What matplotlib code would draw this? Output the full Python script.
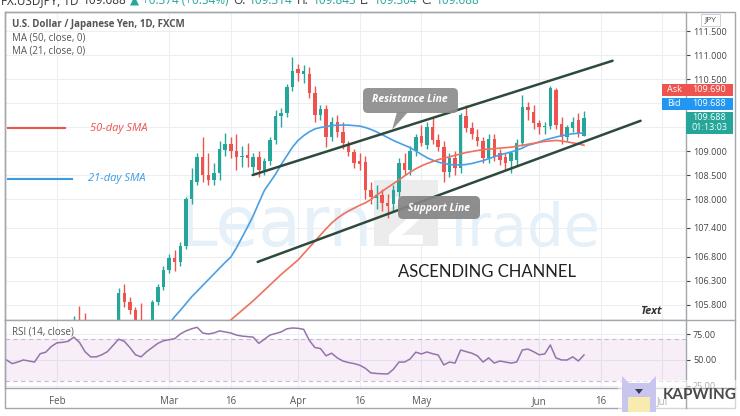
import numpy as np
import pandas as pd
import matplotlib
matplotlib.use("Agg")
import matplotlib.pyplot as plt
from matplotlib.patches import Rectangle, FancyBboxPatch, Polygon
from matplotlib.transforms import Affine2D

plt.rcParams['font.family'] = ['Open Sans', 'DejaVu Sans']

# --- USD/JPY daily candles (FXCM), bar index into `dates` ---
dates = pd.bdate_range("2021-01-18", periods=125)
first_bar = 12

opens = [104.95, 105.03, 105.45, 105.38, 105.22, 104.57, 104.58, 104.75, 104.95, 105.40,
         106.04, 105.86, 105.69, 105.45, 105.07, 105.27, 105.86, 106.17, 106.52, 106.77,
         106.69, 107.02, 108.00, 108.36, 108.88, 108.50, 108.40, 108.55, 109.02, 109.15,
         109.00, 108.87, 108.92, 108.66, 108.87, 108.60, 108.79, 109.23, 109.73, 109.80,
         110.33, 110.70, 110.60, 110.60, 110.21, 109.75, 109.87, 109.29, 109.60, 109.40,
         109.13, 108.98, 108.80, 108.77, 108.19, 108.03, 108.08, 107.92, 107.90, 108.15,
         108.75, 108.60, 109.00, 109.31, 109.12, 109.50, 109.23, 109.08, 108.56, 108.85,
         108.65, 109.72, 109.48, 109.30, 109.20, 108.85, 109.25, 108.95, 108.88, 108.80,
         108.82, 109.17, 109.92, 109.82, 109.58, 109.50, 109.53, 110.27, 109.56, 109.29,
         109.48, 109.65, 109.314]
highs = [105.12, 105.56, 105.77, 105.63, 105.30, 104.80, 104.90, 105.10, 105.45, 106.15,
         106.23, 105.95, 105.75, 105.83, 105.35, 105.90, 106.22, 106.60, 106.85, 106.94,
         107.10, 108.05, 108.65, 108.96, 109.29, 108.96, 108.75, 109.20, 109.37, 109.30,
         109.35, 109.10, 109.17, 108.95, 109.00, 108.85, 109.30, 109.85, 109.90, 110.40,
         110.96, 110.81, 110.80, 110.75, 110.35, 109.95, 109.96, 109.70, 109.75, 109.60,
         109.20, 109.05, 108.95, 108.90, 108.35, 108.30, 108.20, 108.10, 108.30, 108.85,
         108.95, 109.10, 109.35, 109.55, 109.60, 109.70, 109.35, 109.20, 108.95, 109.00,
         109.80, 109.95, 109.60, 109.45, 109.30, 109.35, 109.35, 109.05, 108.95, 109.00,
         109.25, 110.17, 110.02, 109.95, 109.65, 109.60, 110.35, 110.32, 109.70, 109.55,
         109.70, 109.80, 109.843]
lows = [104.80, 104.95, 105.20, 105.15, 104.50, 104.40, 104.50, 104.60, 104.90, 105.30,
        105.75, 105.60, 105.30, 104.90, 104.90, 105.20, 105.80, 106.10, 106.45, 106.50,
        106.60, 106.95, 107.90, 108.30, 108.35, 108.30, 108.30, 108.40, 108.90, 108.85,
        108.60, 108.67, 108.67, 108.55, 108.45, 108.50, 108.70, 109.15, 109.50, 109.70,
        110.25, 110.45, 110.42, 110.10, 109.60, 109.65, 109.08, 109.20, 109.30, 109.05,
        108.90, 108.65, 108.60, 108.00, 107.90, 107.80, 107.75, 107.60, 107.75, 108.05,
        108.50, 108.50, 108.90, 109.10, 109.05, 109.15, 109.00, 108.35, 108.45, 108.50,
        108.55, 109.40, 109.25, 109.10, 108.75, 108.75, 108.80, 108.70, 108.60, 108.55,
        108.70, 109.10, 109.65, 109.45, 109.35, 109.35, 109.45, 109.45, 109.15, 109.20,
        109.40, 109.30, 109.304]
closes = [105.03, 105.45, 105.38, 105.22, 104.57, 104.58, 104.75, 104.95, 105.40, 106.04,
          105.86, 105.69, 105.45, 105.07, 105.27, 105.86, 106.17, 106.52, 106.77, 106.69,
          107.02, 108.00, 108.40, 108.88, 108.50, 108.40, 108.55, 109.04, 109.15, 109.00,
          108.87, 108.90, 108.86, 108.87, 108.60, 108.79, 109.23, 109.73, 109.80, 110.33,
          110.66, 110.62, 110.66, 110.21, 109.75, 109.87, 109.29, 109.60, 109.40, 109.17,
          108.98, 108.75, 108.72, 108.19, 108.05, 108.08, 107.92, 107.85, 108.18, 108.75,
          108.60, 109.00, 109.30, 109.17, 109.50, 109.23, 109.08, 108.56, 108.85, 108.65,
          109.75, 109.48, 109.35, 109.20, 108.85, 109.25, 108.88, 108.82, 108.75, 108.95,
          109.17, 109.92, 109.85, 109.58, 109.50, 109.53, 110.31, 109.54, 109.29, 109.50,
          109.60, 109.38, 109.688]

ma21_start = 30
ma21 = [105.40, 105.55, 105.68, 105.82, 105.96, 106.08, 106.20, 106.32, 106.44, 106.56,
        106.68, 106.79, 106.98, 107.20, 107.42, 107.65, 107.92, 108.18, 108.35, 108.52,
        108.72, 108.90, 109.08, 109.22, 109.32, 109.40, 109.46, 109.49, 109.51, 109.53,
        109.54, 109.54, 109.54, 109.53, 109.52, 109.49, 109.45, 109.40, 109.34, 109.28,
        109.22, 109.17, 109.12, 109.07, 109.00, 108.93, 108.86, 108.81, 108.77, 108.74,
        108.72, 108.71, 108.71, 108.72, 108.74, 108.77, 108.80, 108.84, 108.88, 108.92,
        108.95, 108.98, 109.02, 109.06, 109.12, 109.15, 109.19, 109.23, 109.26, 109.29,
        109.32, 109.34, 109.36, 109.37, 109.38]

ma50_start = 41
ma50 = [105.48, 105.58, 105.68, 105.78, 105.88, 105.99, 106.10, 106.21, 106.32, 106.43,
        106.53, 106.63, 106.73, 106.86, 106.99, 107.12, 107.25, 107.38, 107.50, 107.60,
        107.68, 107.75, 107.81, 107.87, 107.92, 107.99, 108.08, 108.16, 108.24, 108.32,
        108.40, 108.48, 108.56, 108.63, 108.69, 108.74, 108.78, 108.82, 108.85, 108.88,
        108.91, 108.94, 108.97, 108.99, 109.01, 109.03, 109.04, 109.05, 109.06, 109.07,
        109.08, 109.10, 109.12, 109.14, 109.16, 109.18, 109.20, 109.21, 109.22, 109.21,
        109.19, 109.17, 109.15, 109.12]

rsi_start = 1
rsi = [50, 46.5, 48, 50, 49, 48, 56, 57.5, 63, 66.5,
       67, 68, 72, 67, 58, 53, 53, 55, 58, 64,
       70, 68, 62, 55, 53, 58, 62, 66, 68.5, 69.5,
       70.5, 75, 78, 80, 81.5, 76, 75, 76, 78, 77,
       76, 74, 73, 72.5, 72, 66, 70, 74, 75.5, 77,
       80, 80.8, 80.5, 79.5, 69, 62, 61, 54, 56.5, 52,
       49, 47.5, 46.5, 45, 42, 37.5, 37, 36.7, 36.5, 41,
       48, 48, 51, 57.5, 55.8, 57.7, 56, 54.8, 45.2, 48,
       47, 59.6, 58, 56.5, 54, 48, 52, 47, 49, 48,
       47, 48, 59.6, 60.5, 58, 55, 55.8, 64.4, 52, 50,
       50, 53, 49, 54.8]

# ascending channel end points (bar index, price)
resist_x = [44.9, 109.1]
resist_y = [108.50, 110.88]
support_x = [45.8, 114.1]
support_y = [106.69, 109.63]

price_ticks = [105.8, 106.3, 106.8, 107.4, 108.0, 108.5, 109.0, 109.5, 110.0, 110.5, 111.0, 111.5]
rsi_ticks = [25, 50, 75]
date_ticks = ["2021-02-01", "2021-03-01", "2021-03-16", "2021-04-01", "2021-04-16",
              "2021-05-03", "2021-06-01", "2021-06-16", "2021-07-01"]
date_labels = ["Feb", "Mar", "16", "Apr", "16", "May", "Jun", "16", "Jul"]

UP = '#26a69a'
DOWN = '#ef5350'
BORDER = '#a3a6ad'

fig = plt.figure(figsize=(7.4, 4.16), dpi=100)
px = Affine2D().scale(1, -1).translate(0, 416)   # pixel coords, origin top-left


def fx(p):
    return p / 740


def fy(p):
    return 1 - p / 416


ax = fig.add_axes([fx(5), fy(320), fx(686) - fx(5), fy(12) - fy(320)])
rx = fig.add_axes([fx(5), fy(388), fx(686) - fx(5), fy(320) - fy(388)], sharex=ax)

# candles
x = np.arange(first_bar, first_bar + len(closes))
o = np.array(opens)
c = np.array(closes)
col = np.where(c >= o, UP, DOWN)
ax.vlines(x, lows, highs, colors=col, lw=1, zorder=3)
ax.bar(x, np.maximum(np.abs(c - o), 0.025), bottom=np.minimum(o, c), width=0.62,
       color=col, zorder=4)

ax.plot(np.arange(ma21_start, ma21_start + len(ma21)), ma21, color='#4a9fe3', lw=1.2, zorder=5)
ax.plot(np.arange(ma50_start, ma50_start + len(ma50)), ma50, color='#f0705e', lw=1.2, zorder=5)
ax.plot(resist_x, resist_y, color='#2e4a3c', lw=1.8, zorder=6, solid_capstyle='round')
ax.plot(support_x, support_y, color='#2e4a3c', lw=1.8, zorder=6, solid_capstyle='round')

tick_idx = [dates.get_loc(pd.Timestamp(d)) for d in date_ticks]
ax.set_xlim(0.73, 122.2)
ax.set_ylim(105.48, 111.896)
ax.set_yticks(price_ticks)
ax.set_yticklabels(["%.3f" % p for p in price_ticks])
ax.set_xticks(tick_idx)
ax.yaxis.tick_right()
ax.tick_params(axis='y', labelsize=6.5, colors='#444', length=3, pad=2)
ax.tick_params(axis='x', bottom=False, labelbottom=False)
ax.grid(color='#eceef3', lw=0.8)
ax.set_axisbelow(True)

# faint watermark behind the candles
ax.text(178, 246, "Learn", transform=px, fontsize=50, color='#e5f0f8', family='DejaVu Sans',
        va='baseline', zorder=1)
ax.add_patch(Rectangle((374, 180), 64, 66, transform=px, fc='#ececec', ec='none', zorder=1))
ax.text(406, 244, "2", transform=px, fontsize=46, color='white', family='DejaVu Sans',
        ha='center', va='baseline', zorder=1, weight='bold')
ax.text(440, 246, "Trade", transform=px, fontsize=42, color='#e5f0f8', family='DejaVu Sans',
        va='baseline', zorder=1)

# RSI pane
rx.axhspan(30, 70, color='#9c27b0', alpha=0.08, lw=0)
rx.axhline(70, color='#c9b7d9', lw=0.8, ls=(0, (4, 3)))
rx.axhline(30, color='#c9b7d9', lw=0.8, ls=(0, (4, 3)))
rx.plot(np.arange(rsi_start, rsi_start + len(rsi)), rsi, color='#9474ab', lw=1.1)
rx.set_ylim(23, 88.5)
rx.set_yticks(rsi_ticks)
rx.set_yticklabels(["%.2f" % v for v in rsi_ticks])
rx.yaxis.tick_right()
rx.tick_params(axis='y', labelsize=6.5, colors='#444', length=3, pad=2)
rx.set_xticks(tick_idx)
rx.set_xticklabels(date_labels)
rx.tick_params(axis='x', labelsize=7, colors='#555', length=0, pad=6)
rx.grid(color='#eceef3', lw=0.8)
rx.set_axisbelow(True)

for a in (ax, rx):
    for s in a.spines.values():
        s.set_color(BORDER)
        s.set_linewidth(1)

# outer frame and price-scale separators
fig.add_artist(Rectangle((5, 12), 730, 396, transform=px, fill=False, ec=BORDER, lw=1))
fig.add_artist(plt.Line2D([686, 686], [388, 408], transform=px, color=BORDER, lw=1))
fig.add_artist(plt.Line2D([686, 735], [320, 320], transform=px, color=BORDER, lw=1))
fig.add_artist(plt.Line2D([686, 735], [388, 388], transform=px, color=BORDER, lw=1))

# header (cut at the top edge)
header = [("FX:USDJPY, 1D", '#333'), ("109.688", '#333'), ("\u25b2 +0.374 (+0.34%)", UP),
          ("O:", '#333'), ("109.314", UP), ("H:", '#333'), ("109.843", UP),
          ("L:", '#333'), ("109.304", UP), ("C:", '#333'), ("109.688", UP)]
renderer = fig.canvas.get_renderer()
hx = 1
for s, hc in header:
    t = fig.text(hx, 1, s, transform=px, color=hc, fontsize=8.5, va='center')
    bb = t.get_window_extent(renderer)
    hx = bb.x1 + 4

fig.text(12, 25, "U.S. Dollar / Japanese Yen, 1D, FXCM", transform=px, fontsize=7,
         weight='bold', color='#555', va='center')
fig.text(12, 38, "MA (50, close, 0)", transform=px, fontsize=7, color='#555', va='center')
fig.text(12, 51, "MA (21, close, 0)", transform=px, fontsize=7, color='#555', va='center')
fig.text(12, 332, "RSI (14, close)", transform=px, fontsize=7, color='#555', va='center')

# hand-drawn legend for the moving averages
fig.add_artist(plt.Line2D([8, 65], [128, 128], transform=px, color=DOWN, lw=1.5))
fig.text(90, 128, "50-day SMA", transform=px, fontsize=8, style='italic', color=DOWN, va='center')
fig.add_artist(plt.Line2D([8, 72], [179, 179], transform=px, color='#3d9be0', lw=1.5))
fig.text(88, 179, "21-day SMA", transform=px, fontsize=8, style='italic', color='#3d9be0',
         va='center')

# callouts
fig.add_artist(FancyBboxPatch((363, 88), 95, 25, boxstyle='round,pad=0,rounding_size=5',
                              transform=px, fc='#8c8c8c', ec='none', alpha=0.92))
fig.add_artist(Polygon([(397, 112), (408, 112), (392, 130)], transform=px, fc='#8c8c8c',
                       ec='none', alpha=0.92))
fig.text(410, 100, "Resistance Line", transform=px, fontsize=7.5, color='white',
         style='italic', weight='bold', ha='center', va='center')
fig.add_artist(FancyBboxPatch((398, 196), 82, 23, boxstyle='round,pad=0,rounding_size=5',
                              transform=px, fc='#858585', ec='none', alpha=0.92))
fig.text(439, 208, "Support Line", transform=px, fontsize=7.5, color='white',
         style='italic', weight='bold', ha='center', va='center')

fig.text(398, 272, "ASCENDING CHANNEL", transform=px, fontsize=12, family=['Lato', 'DejaVu Sans'],
         color='#222', va='center')
fig.text(640, 311, "Text", transform=px, fontsize=8, style='italic', weight='bold', color='#333',
         va='center')

# price scale labels
fig.add_artist(Rectangle((701, 14), 19, 12, transform=px, fc='white', ec='#cfd2d8', lw=0.8))
fig.text(710.5, 20, "JPY", transform=px, fontsize=6, color='#444', ha='center', va='center')
boxes = [(662, 84, 24, 12, DOWN, "Ask"), (686, 84, 47, 12, DOWN, "109.690"),
         (662, 98, 24, 12, '#2196f3', "Bid"), (686, 98, 47, 12, '#2196f3', "109.688")]
for bx, by, bw, bh, bc, s in boxes:
    fig.add_artist(Rectangle((bx, by), bw, bh, transform=px, fc=bc, ec='none'))
    fig.text(bx + bw / 2, by + bh / 2, s, transform=px, fontsize=6.5, color='white',
             ha='center', va='center')
fig.add_artist(Rectangle((686, 112), 47, 22, transform=px, fc=UP, ec='none'))
fig.text(709.5, 118, "109.688", transform=px, fontsize=6.5, color='white', ha='center', va='center')
fig.text(709.5, 128, "01:13:03", transform=px, fontsize=6.5, color='white', ha='center', va='center')

# KAPWING badge
fig.add_artist(Rectangle((618, 380), 120, 32, transform=px, fc='white', ec='none', alpha=0.55))
fig.add_artist(Polygon([(622, 412), (622, 376), (629, 383), (649, 383), (656, 376), (656, 412)],
                       transform=px, fc='#c8c6ef', ec='none'))
fig.add_artist(Rectangle((628, 397), 22, 15, transform=px, fc='#f7ebb0', ec='none'))
fig.add_artist(Polygon([(635, 389), (643, 389), (639, 394)], transform=px, fc='#3b3b55', ec='none'))
fig.text(663, 395, "KAPWING", transform=px, fontsize=11, weight='bold', color='#4a4a4a',
         va='center', family=['Lato', 'DejaVu Sans'])

fig.savefig("out.png", dpi=100)
